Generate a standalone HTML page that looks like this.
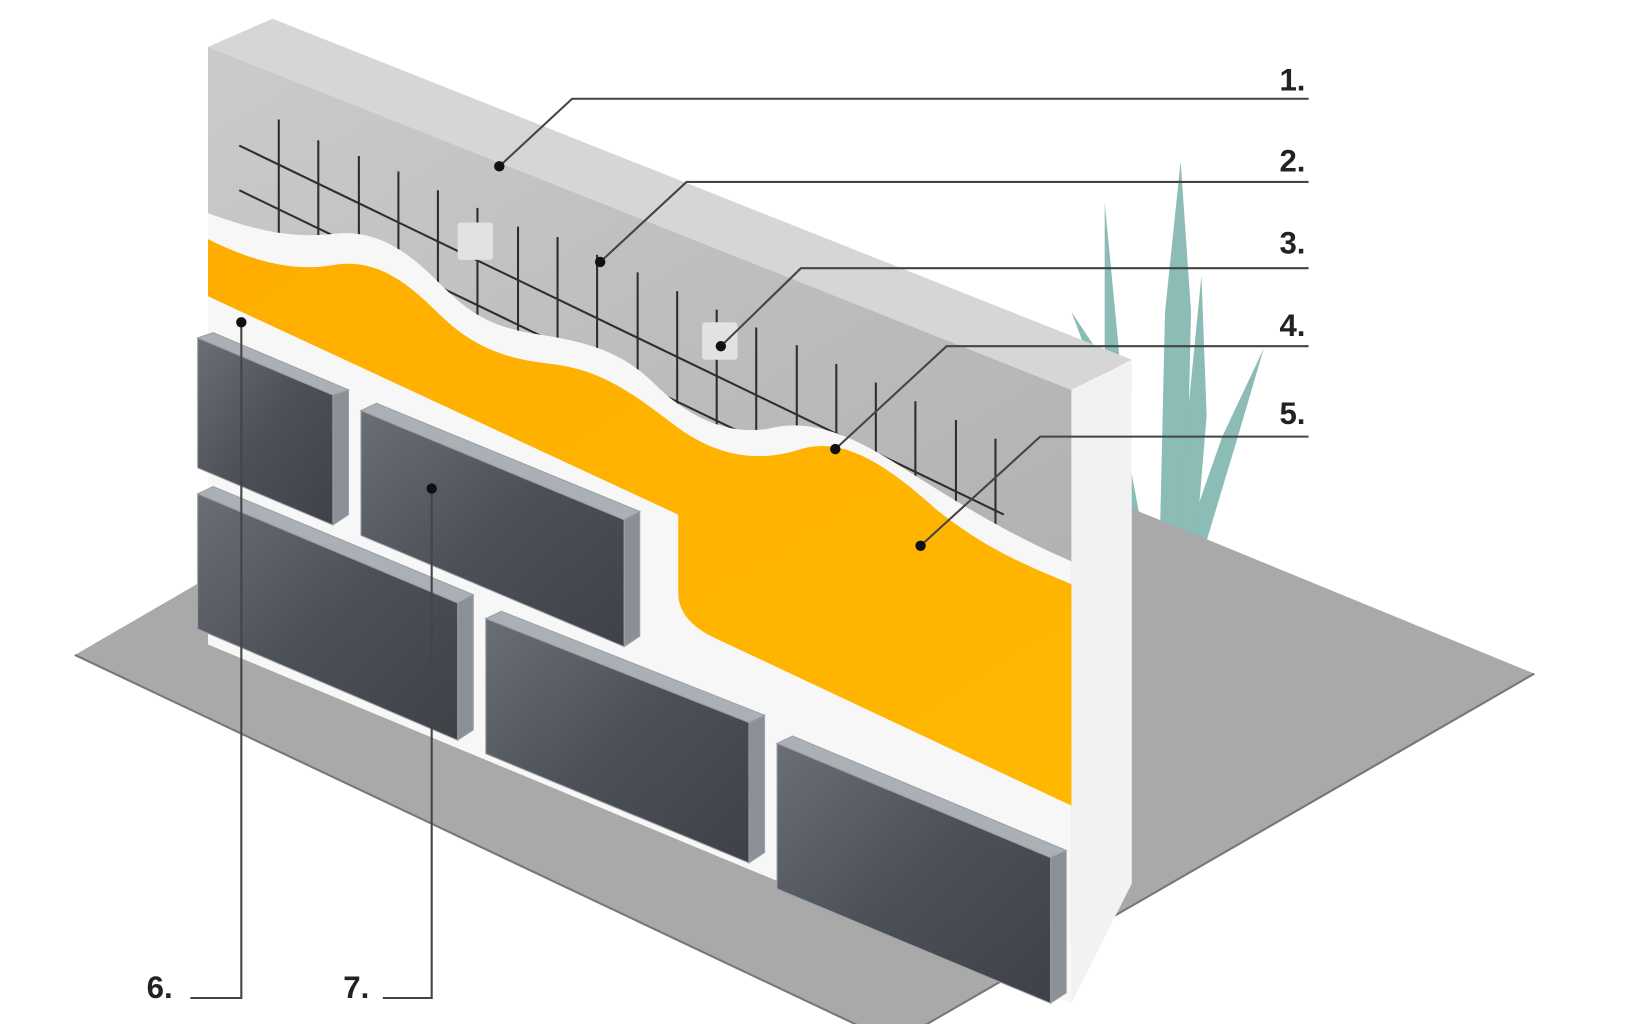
<!DOCTYPE html>
<html><head><meta charset="utf-8"><style>
html,body{margin:0;padding:0;background:#fff;width:1630px;height:1024px;overflow:hidden}
svg{display:block}
text{font-family:"Liberation Sans",sans-serif;font-weight:bold;font-size:30px;fill:#222}
</style></head><body>
<svg width="1630" height="1024" viewBox="0 0 1567 985" preserveAspectRatio="none" xmlns="http://www.w3.org/2000/svg">
<defs>
<linearGradient id="gr" x1="0" y1="0" x2="1" y2="1"><stop offset="0" stop-color="#cbcbcb"/><stop offset="1" stop-color="#b2b2b2"/></linearGradient>
<linearGradient id="ye" x1="0" y1="0" x2="1" y2="1"><stop offset="0" stop-color="#ffae00"/><stop offset="1" stop-color="#ffb700"/></linearGradient>
<linearGradient id="br" x1="0" y1="0" x2="1" y2="1"><stop offset="0" stop-color="#6a6f76"/><stop offset="0.5" stop-color="#4c5157"/><stop offset="1" stop-color="#3e4248"/></linearGradient>
<clipPath id="gc"><path id="gp" d="M200,45 L1030,375 L1030,540 C960,510 900,470 860,445 C820,420 780,402 740,412 C700,420 660,400 630,370 C600,340 570,330 520,322 C470,315 450,300 420,270 C390,240 360,220 320,225 C280,230 240,220 200,205 Z"/></clipPath>
</defs>
<!-- grass -->
<g fill="#7fb5ad" opacity="0.9">
<path d="M1135,155 L1145,300 L1140,520 L1115,520 L1120,300 Z"/>
<path d="M1062,195 L1075,330 L1090,520 L1070,520 L1062,330 Z"/>
<path d="M1155,265 L1160,400 L1150,520 L1130,520 Z"/>
<path d="M1215,335 L1190,420 L1160,520 L1140,520 L1175,420 Z"/>
<path d="M1030,300 L1070,360 L1100,520 L1085,520 L1060,380 Z"/>
</g>
<!-- ground -->
<polygon points="72,630 640,300 1090,490 1475,648 860,1003" fill="#a9a9a9"/>
<polyline points="72,630 860,1003 1475,648" fill="none" stroke="#777" stroke-width="2"/>
<!-- wall side -->
<polygon points="1030,375 1088,346 1088,850 1030,965" fill="#f2f2f2"/>
<!-- wall top -->
<polygon points="200,45 262,18 1088,346 1030,375" fill="#d6d6d6"/>
<!-- wall front -->
<polygon points="200,45 1030,375 1030,965 200,620" fill="#f7f7f7"/>
<!-- gray plaster -->
<path d="M200,45 L1030,375 L1030,540 C960,510 900,470 860,445 C820,420 780,402 740,412 C700,420 660,400 630,370 C600,340 570,330 520,322 C470,315 450,300 420,270 C390,240 360,220 320,225 C280,230 240,220 200,205 Z" fill="url(#gr)"/>
<!-- grid -->
<g clip-path="url(#gc)" stroke="#2e2e2e" stroke-width="2">
<line x1="230" y1="140" x2="965" y2="495"/>
<line x1="230" y1="183" x2="965" y2="538"/>
<line x1="230" y1="226" x2="965" y2="581"/>
<g>
<line x1="268" y1="115" x2="268" y2="260"/><line x1="306" y1="135" x2="306" y2="280"/><line x1="345" y1="150" x2="345" y2="300"/><line x1="383" y1="165" x2="383" y2="320"/><line x1="421" y1="183" x2="421" y2="340"/><line x1="459" y1="200" x2="459" y2="360"/><line x1="498" y1="218" x2="498" y2="380"/><line x1="536" y1="228" x2="536" y2="400"/><line x1="574" y1="245" x2="574" y2="420"/><line x1="613" y1="262" x2="613" y2="440"/><line x1="651" y1="280" x2="651" y2="460"/><line x1="689" y1="298" x2="689" y2="480"/><line x1="727" y1="315" x2="727" y2="500"/><line x1="766" y1="332" x2="766" y2="520"/><line x1="804" y1="350" x2="804" y2="540"/><line x1="842" y1="368" x2="842" y2="560"/><line x1="880" y1="386" x2="880" y2="580"/><line x1="919" y1="404" x2="919" y2="600"/><line x1="957" y1="422" x2="957" y2="620"/>
</g>
</g>
<rect x="440" y="214" width="34" height="36" rx="3" fill="#e2e2e2"/>
<rect x="675" y="310" width="34" height="36" rx="3" fill="#e2e2e2"/>
<!-- yellow -->
<path d="M200,230 C240,250 280,262 320,255 C360,248 390,270 420,300 C450,330 480,345 530,350 C580,356 610,380 650,410 C690,440 730,445 770,432 C810,420 850,445 900,490 C950,530 990,545 1030,562 L1030,775 L690,615 Q652,598 652,570 L652,495 L200,285 Z" fill="url(#ye)"/>
<!-- bricks -->
<g stroke="#9aa0a6" stroke-width="1">
<polygon points="190,325 205,320 335,375 320,380" fill="#aab0b5"/>
<polygon points="320,380 335,375 335,495 320,505" fill="#8a9096"/>
<polygon points="190,325 320,380 320,505 190,450" fill="url(#br)"/>
<polygon points="347,395 362,388 615,492 600,500" fill="#aab0b5"/>
<polygon points="600,500 615,492 615,612 600,622" fill="#8a9096"/>
<polygon points="347,395 600,500 600,622 347,515" fill="url(#br)"/>
<polygon points="190,475 205,468 455,572 440,580" fill="#aab0b5"/>
<polygon points="440,580 455,572 455,702 440,712" fill="#8a9096"/>
<polygon points="190,475 440,580 440,712 190,605" fill="url(#br)"/>
<polygon points="467,595 482,588 735,688 720,695" fill="#aab0b5"/>
<polygon points="720,695 735,688 735,820 720,830" fill="#8a9096"/>
<polygon points="467,595 720,695 720,830 467,725" fill="url(#br)"/>
<polygon points="747,715 762,708 1025,818 1010,825" fill="#aab0b5"/>
<polygon points="1010,825 1025,818 1025,955 1010,965" fill="#8a9096"/>
<polygon points="747,715 1010,825 1010,965 747,855" fill="url(#br)"/>
</g>
<!-- leaders -->
<g fill="none" stroke="#444" stroke-width="2">
<polyline points="1258,95 550,95 480,160"/>
<polyline points="1258,175 660,175 577,252"/>
<polyline points="1258,258 770,258 693,333"/>
<polyline points="1258,333 910,333 803,432"/>
<polyline points="1258,420 1000,420 885,525"/>
<polyline points="232,310 232,960 183,960"/>
<polyline points="415,470 415,960 368,960"/>
</g>
<g fill="#111">
<circle cx="480" cy="160" r="5"/><circle cx="577" cy="252" r="5"/><circle cx="693" cy="333" r="5"/><circle cx="803" cy="432" r="5"/><circle cx="885" cy="525" r="5"/><circle cx="232" cy="310" r="5"/><circle cx="415" cy="470" r="5"/>
</g>
<text x="1230" y="87">1.</text>
<text x="1230" y="165">2.</text>
<text x="1230" y="244">3.</text>
<text x="1230" y="323">4.</text>
<text x="1230" y="408">5.</text>
<text x="141" y="960">6.</text>
<text x="330" y="960">7.</text>
</svg>
</body></html>
